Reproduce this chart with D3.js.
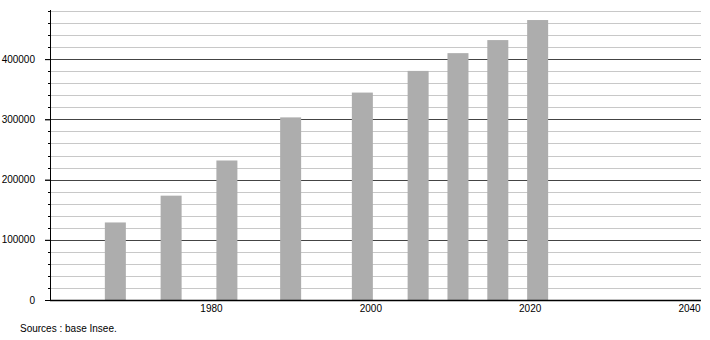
<!DOCTYPE html>
<html>
<head>
<meta charset="utf-8">
<script src="https://cdn.jsdelivr.net/npm/d3@7"></script>
<style>
  body { margin: 0; background: #fff; }
  text { font-family: "Liberation Sans", Arial, sans-serif; }
</style>
</head>
<body>
<div id="chart"></div>
<script>
// census years and population (Insee)
var years = [1968, 1975, 1982, 1990, 1999, 2006, 2011, 2016, 2021];
var population = [128800, 173300, 231700, 303300, 344500, 380500, 410000, 431700, 465000];
var xTicks = [1980, 2000, 2020, 2040];
var yTicks = [0, 100000, 200000, 300000, 400000];

var W = 710, H = 340;
var margin = {top: 11, right: 9, bottom: 40, left: 50},
    width = W - margin.left - margin.right,
    height = H - margin.top - margin.bottom;

var svg = d3.select("#chart")
  .append("svg")
    .attr("width", W)
    .attr("height", H);

var g = svg.append("g")
    .attr("transform", "translate(" + margin.left + "," + margin.top + ")");

var x = d3.scaleLinear()
  .domain([1959.8, 2041.5])
  .range([0, width]);

var y = d3.scaleLinear()
  .domain([0, 480000])
  .range([height, 0]);

// minor grid every 20000
var minor = d3.range(20000, 480001, 20000).filter(function(v) { return v % 100000 != 0; });
g.append("g")
  .selectAll("line")
  .data(minor)
  .enter()
  .append("line")
    .attr("x1", 0)
    .attr("x2", width)
    .attr("y1", function(d) { return Math.round(y(d)) + 0.5; })
    .attr("y2", function(d) { return Math.round(y(d)) + 0.5; })
    .attr("stroke", "#c8c8c8")
    .attr("stroke-width", 1);

// major grid
g.append("g")
  .selectAll("line")
  .data(yTicks.filter(function(d) { return d > 0; }))
  .enter()
  .append("line")
    .attr("x1", -5)
    .attr("x2", width)
    .attr("y1", function(d) { return Math.round(y(d)) + 0.5; })
    .attr("y2", function(d) { return Math.round(y(d)) + 0.5; })
    .attr("stroke", "#444")
    .attr("stroke-width", 1);

// minor ticks on the axis
g.append("g")
  .selectAll("line")
  .data(minor)
  .enter()
  .append("line")
    .attr("x1", -2)
    .attr("x2", 0)
    .attr("y1", function(d) { return Math.round(y(d)) + 0.5; })
    .attr("y2", function(d) { return Math.round(y(d)) + 0.5; })
    .attr("stroke", "#000");

// bars
var barW = 21;
g.append("g")
  .selectAll("rect")
  .data(years)
  .enter()
  .append("rect")
    .attr("x", function(d) { return x(d) - barW / 2; })
    .attr("y", function(d, i) { return y(population[i]); })
    .attr("width", barW)
    .attr("height", function(d, i) { return height - y(population[i]); })
    .attr("fill", "#adadad");

// y axis
var yAxis = g.append("g")
  .call(d3.axisLeft(y).tickValues(yTicks).tickSize(5).tickPadding(10).tickFormat(d3.format("d")));
yAxis.select(".domain").remove();
yAxis.selectAll("text").attr("font-size", 10).attr("fill", "#000")
  .attr("font-family", "'Liberation Sans', Arial, sans-serif");
yAxis.selectAll("line").attr("stroke", "#000");

g.append("line")
  .attr("x1", 0.5).attr("x2", 0.5)
  .attr("y1", -1).attr("y2", height)
  .attr("stroke", "#000");

// x axis
var xAxis = g.append("g")
  .attr("transform", "translate(0," + height + ")")
  .call(d3.axisBottom(x).tickValues(xTicks).tickSize(0).tickPadding(5).tickFormat(d3.format("d")));
xAxis.select(".domain").remove();
xAxis.selectAll("text").attr("font-size", 10).attr("fill", "#000")
  .attr("font-family", "'Liberation Sans', Arial, sans-serif");

g.append("line")
  .attr("x1", 0).attr("x2", width)
  .attr("y1", height + 0.5).attr("y2", height + 0.5)
  .attr("stroke", "#000")
  .attr("stroke-width", 1.5);

// source note
svg.append("text")
  .attr("x", 20)
  .attr("y", 332)
  .attr("font-size", 10)
  .attr("fill", "#000")
  .text("Sources : base Insee.");
</script>
</body>
</html>
